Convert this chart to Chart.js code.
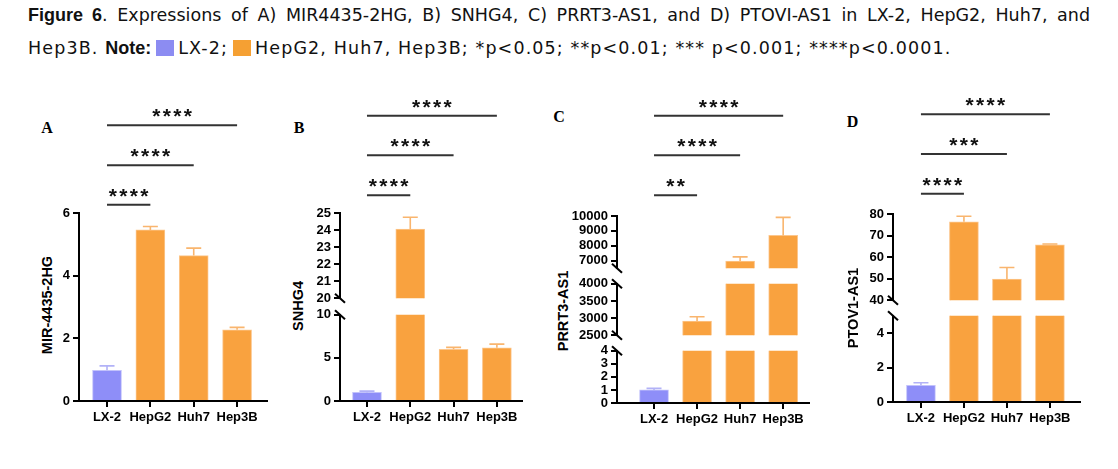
<!DOCTYPE html>
<html><head><meta charset="utf-8">
<script src="https://cdn.jsdelivr.net/npm/chart.js@4"></script>
<style>
html,body{margin:0;padding:0;background:#fff;}
#root{position:relative;width:1118px;height:469px;overflow:hidden;background:#fff;}
.cap{position:absolute;left:28px;font-family:'DejaVu Sans',sans-serif;font-size:17.5px;color:#111;white-space:nowrap;line-height:22px;}
.cap b{font-family:'Liberation Sans',Arial,sans-serif;font-size:18px;letter-spacing:0;}
.sw{display:inline-block;width:18px;height:16px;vertical-align:-2px;margin:0 4px 0 5px}
canvas{position:absolute;}
.ytitle{position:absolute;font:bold 14.5px 'Liberation Sans',Arial,sans-serif;white-space:nowrap;transform:translate(-50%,-50%) rotate(-90deg);color:#000;}
.letter{position:absolute;font:bold 16px 'Liberation Serif','Times New Roman',serif;transform:translate(-50%,-50%);color:#000;}
</style></head><body><div id="root">
<div class="cap" id="cap1" style="top:4px"><b>Figure 6</b>. Expressions of A) MIR4435-2HG, B) SNHG4, C) PRRT3-AS1, and D) PTOVI-AS1 in LX-2, HepG2, Huh7, and</div>
<div class="cap" id="cap2" style="top:37px">Hep3B. <b>Note:</b><span class="sw" style="background:#8c8cf2"></span>LX-2;<span class="sw" style="background:#f5a033"></span>HepG2, Huh7, Hep3B; *p&lt;0.05; **p&lt;0.01; *** p&lt;0.001; ****p&lt;0.0001.</div>
</div>
<script>
// ---------- data ----------
const categories = ['LX-2', 'HepG2', 'Huh7', 'Hep3B'];

const mirMean  = [0.98, 5.46, 4.64, 2.27];
const mirSD    = [0.14, 0.11, 0.24, 0.08];
const snhgMean = [1.0, 24.05, 6.0, 6.18];
const snhgSD   = [0.15, 0.70, 0.22, 0.42];
const prrtMean = [1.0, 2910, 6980, 8700];
const prrtSD   = [0.12, 130, 280, 1210];
const ptovMean = [0.97, 76.5, 49.8, 65.8];
const ptovSD   = [0.15, 2.6, 5.4, 0.4];

const mirTicks      = [0, 2, 4, 6];
const snhgTicksHigh = [20, 21, 22, 23, 24, 25];
const snhgTicksLow  = [0, 5, 10];
const prrtTicksHigh = [7000, 8000, 9000, 10000];
const prrtTicksMid  = [2500, 3000, 3500, 4000];
const prrtTicksLow  = [0, 1, 2, 3, 4];
const ptovTicksHigh = [40, 50, 60, 70, 80];
const ptovTicksLow  = [0, 2, 4];

const sigPairs = [[1, 4], [1, 3], [1, 2]];
const sigA = ['****', '****', '****'];
const sigB = ['****', '****', '****'];
const sigC = ['****', '****', '**'];
const sigD = ['****', '***', '****'];

const yTitles = ['MIR-4435-2HG', 'SNHG4', 'PRRT3-AS1', 'PTOV1-AS1'];
const panelLetters = ['A', 'B', 'C', 'D'];

// ---------- caption fitting ----------
function fitWords(id, target) {
  const el = document.getElementById(id);
  el.style.wordSpacing = '0px';
  const w0 = el.getBoundingClientRect().width;
  const n = (el.textContent.match(/ /g) || []).length;
  el.style.wordSpacing = ((target - w0) / n) + 'px';
}
function fitLetters(id, target) {
  const el = document.getElementById(id);
  el.style.letterSpacing = '0px';
  const w0 = el.getBoundingClientRect().width;
  const n = el.textContent.length;
  el.style.letterSpacing = ((target - w0) / n) + 'px';
}
fitWords('cap1', 1062);
fitLetters('cap2', 929);

// ---------- styles / layout ----------
const LAV = '#8e8ef8', ORA = '#f9a23f';
const LAV_EDGE = '#c2c2fb', ORA_EDGE = '#fcc68c';
const LAV_ERR = '#b2b2f7', ORA_ERR = '#f9b56e';
const FONT = {family: "'Liberation Sans', Arial, sans-serif", weight: 'bold', size: 13};

const panels = [
  {mean: mirMean, sd: mirSD, sig: sigA, axisX: 79, xEnd: 267, xMin: 0.354, xMax: 4.69,
   sigY: [125.3, 165.3, 204.7], letterPos: [47, 128], titlePos: [46.5, 305],
   segs: [{min: 0, max: 6, ticks: mirTicks, top: 213, bottom: 401}]},
  {mean: snhgMean, sd: snhgSD, sig: sigB, axisX: 340, xEnd: 522, xMin: 0.377, xMax: 4.58,
   sigY: [115.7, 155.3, 195.3], letterPos: [299, 128], titlePos: [298, 306],
   segs: [{min: 20, max: 25, ticks: snhgTicksHigh, top: 213, bottom: 299.3},
          {min: 0, max: 10, ticks: snhgTicksLow, top: 314, bottom: 400.7}]},
  {mean: prrtMean, sd: prrtSD, sig: sigC, axisX: 617, xEnd: 809, xMin: 0.14, xMax: 4.6,
   sigY: [115.7, 155.3, 195.3], letterPos: [559, 117], titlePos: [562.5, 311],
   segs: [{min: 6500, max: 10000, ticks: prrtTicksHigh, top: 216, bottom: 269},
          {min: 2500, max: 4000, ticks: prrtTicksMid, top: 283, bottom: 335.7},
          {min: 0, max: 4, ticks: prrtTicksLow, top: 349.7, bottom: 403.3}]},
  {mean: ptovMean, sd: ptovSD, sig: sigD, axisX: 893, xEnd: 1080, xMin: 0.35, xMax: 4.7,
   sigY: [114.3, 154, 193.7], letterPos: [852.5, 121.5], titlePos: [853, 307.5],
   segs: [{min: 40, max: 80, ticks: ptovTicksHigh, top: 214.3, bottom: 300.7},
          {min: 0, max: 5, ticks: ptovTicksLow, top: 315, bottom: 401.7}]}
];

const W = 60, PR = 8, PAD = 10, XH = 32, SIGTOP = 90;
const root = document.getElementById('root');

const segPlugin = {
  id: 'seg',
  afterDatasetsDraw(chart, args, o) {
    const ctx = chart.ctx, xs = chart.scales.x, ys = chart.scales.y;
    ctx.save();
    o.mean.forEach((m, i) => {
      if (m < ys.min || m > ys.max) return;
      const hi = Math.min(m + o.sd[i], ys.max);
      const px = xs.getPixelForValue(i + 1);
      const y0 = ys.getPixelForValue(m), y1 = ys.getPixelForValue(hi);
      ctx.strokeStyle = i === 0 ? LAV_ERR : ORA_ERR;
      ctx.lineWidth = 1.6;
      ctx.beginPath();
      ctx.moveTo(px, y0); ctx.lineTo(px, y1);
      ctx.moveTo(px - 7.5, y1); ctx.lineTo(px + 7.5, y1);
      ctx.stroke();
    });
    ctx.restore();
  },
  afterDraw(chart, args, o) {
    const ctx = chart.ctx, a = chart.chartArea, xs = chart.scales.x;
    ctx.save();
    ctx.strokeStyle = '#000'; ctx.lineWidth = 2;
    const slash = (x, y) => { ctx.beginPath(); ctx.moveTo(x - 5, y - 4.5); ctx.lineTo(x + 5, y + 4.5); ctx.stroke(); };
    if (o.breakTop) slash(a.left, a.top);
    if (o.breakBottom) slash(a.left, a.bottom);
    if (o.sig) {
      o.sig.forEach((label, k) => {
        const [i, j] = sigPairs[k];
        const x1 = xs.getPixelForValue(i), x2 = xs.getPixelForValue(j);
        const y = o.sigY[k] - o.canvasTop;
        ctx.strokeStyle = '#333'; ctx.lineWidth = 2;
        ctx.beginPath(); ctx.moveTo(x1, y); ctx.lineTo(x2, y); ctx.stroke();
        ctx.fillStyle = '#111';
        ctx.font = "bold 21px 'Liberation Sans', Arial, sans-serif";
        ctx.textAlign = 'center'; ctx.textBaseline = 'alphabetic';
        const mt = ctx.measureText('*');
        const off = (mt.actualBoundingBoxAscent - mt.actualBoundingBoxDescent) / 2;
        const cx = (x1 + x2) / 2, n = label.length;
        for (let s = 0; s < n; s++) {
          ctx.fillText('*', cx + (s - (n - 1) / 2) * 10.5, y - 12 + off);
        }
      });
    }
    ctx.restore();
  }
};

panels.forEach((p, pi) => {
  const lt = document.createElement('div');
  lt.className = 'letter'; lt.textContent = panelLetters[pi];
  lt.style.left = p.letterPos[0] + 'px'; lt.style.top = p.letterPos[1] + 'px';
  root.appendChild(lt);
  const tt = document.createElement('div');
  tt.className = 'ytitle'; tt.textContent = yTitles[pi];
  tt.style.left = p.titlePos[0] + 'px'; tt.style.top = p.titlePos[1] + 'px';
  root.appendChild(tt);

  p.segs.forEach((seg, idx) => {
    const isTop = idx === 0, isBottom = idx === p.segs.length - 1;
    const canvasTop = Math.round(seg.top - (isTop ? (seg.top - SIGTOP) : PAD));
    const padTop = seg.top - canvasTop;
    const h = Math.round(padTop + (seg.bottom - seg.top) + (isBottom ? XH : PAD));
    const padBottom = isBottom ? 0 : h - padTop - (seg.bottom - seg.top);
    const w = W + (p.xEnd - p.axisX) + PR;
    const cv = document.createElement('canvas');
    cv.width = w; cv.height = h;
    cv.style.left = (p.axisX - W) + 'px'; cv.style.top = canvasTop + 'px';
    cv.style.width = w + 'px'; cv.style.height = h + 'px';
    root.appendChild(cv);

    new Chart(cv, {
      type: 'bar',
      data: {datasets: [{
        data: p.mean.map((v, i) => ({x: i + 1, y: v})),
        backgroundColor: p.mean.map((_, i) => i === 0 ? LAV : ORA),
        borderColor: p.mean.map((_, i) => i === 0 ? LAV_EDGE : ORA_EDGE),
        borderWidth: 1, borderSkipped: 'start',
        barThickness: 29, clip: 0
      }]},
      options: {
        responsive: false, animation: false, devicePixelRatio: 1,
        layout: {padding: {top: padTop, bottom: padBottom, left: 0, right: PR}},
        plugins: {
          legend: {display: false}, tooltip: {enabled: false},
          seg: {mean: p.mean, sd: p.sd, breakTop: !isTop, breakBottom: !isBottom,
                sig: isTop ? p.sig : null, sigY: p.sigY, canvasTop: canvasTop}
        },
        scales: {
          x: {type: 'linear', min: p.xMin, max: p.xMax, offset: false, display: isBottom,
              afterBuildTicks: s => { s.ticks = categories.map((_, i) => ({value: i + 1})); },
              afterFit: s => { s.height = isBottom ? XH : 0; },
              ticks: {callback: v => categories[v - 1], autoSkip: false, maxRotation: 0, padding: 3, color: '#000', font: FONT},
              grid: {offset: false, drawOnChartArea: false, drawTicks: true, tickLength: 6, color: '#000', lineWidth: 2},
              border: {display: true, color: '#000', width: 2}},
          y: {type: 'linear', min: seg.min, max: seg.max, beginAtZero: false,
              afterBuildTicks: s => { s.ticks = seg.ticks.map(v => ({value: v})); },
              afterFit: s => { s.width = W; },
              ticks: {callback: v => String(v), autoSkip: false, padding: 3, color: '#000', font: FONT},
              grid: {drawOnChartArea: false, drawTicks: true, tickLength: 6, color: '#000', lineWidth: 2},
              border: {display: true, color: '#000', width: 2}}
        }
      },
      plugins: [segPlugin]
    });
  });
});
</script>
</body></html>
